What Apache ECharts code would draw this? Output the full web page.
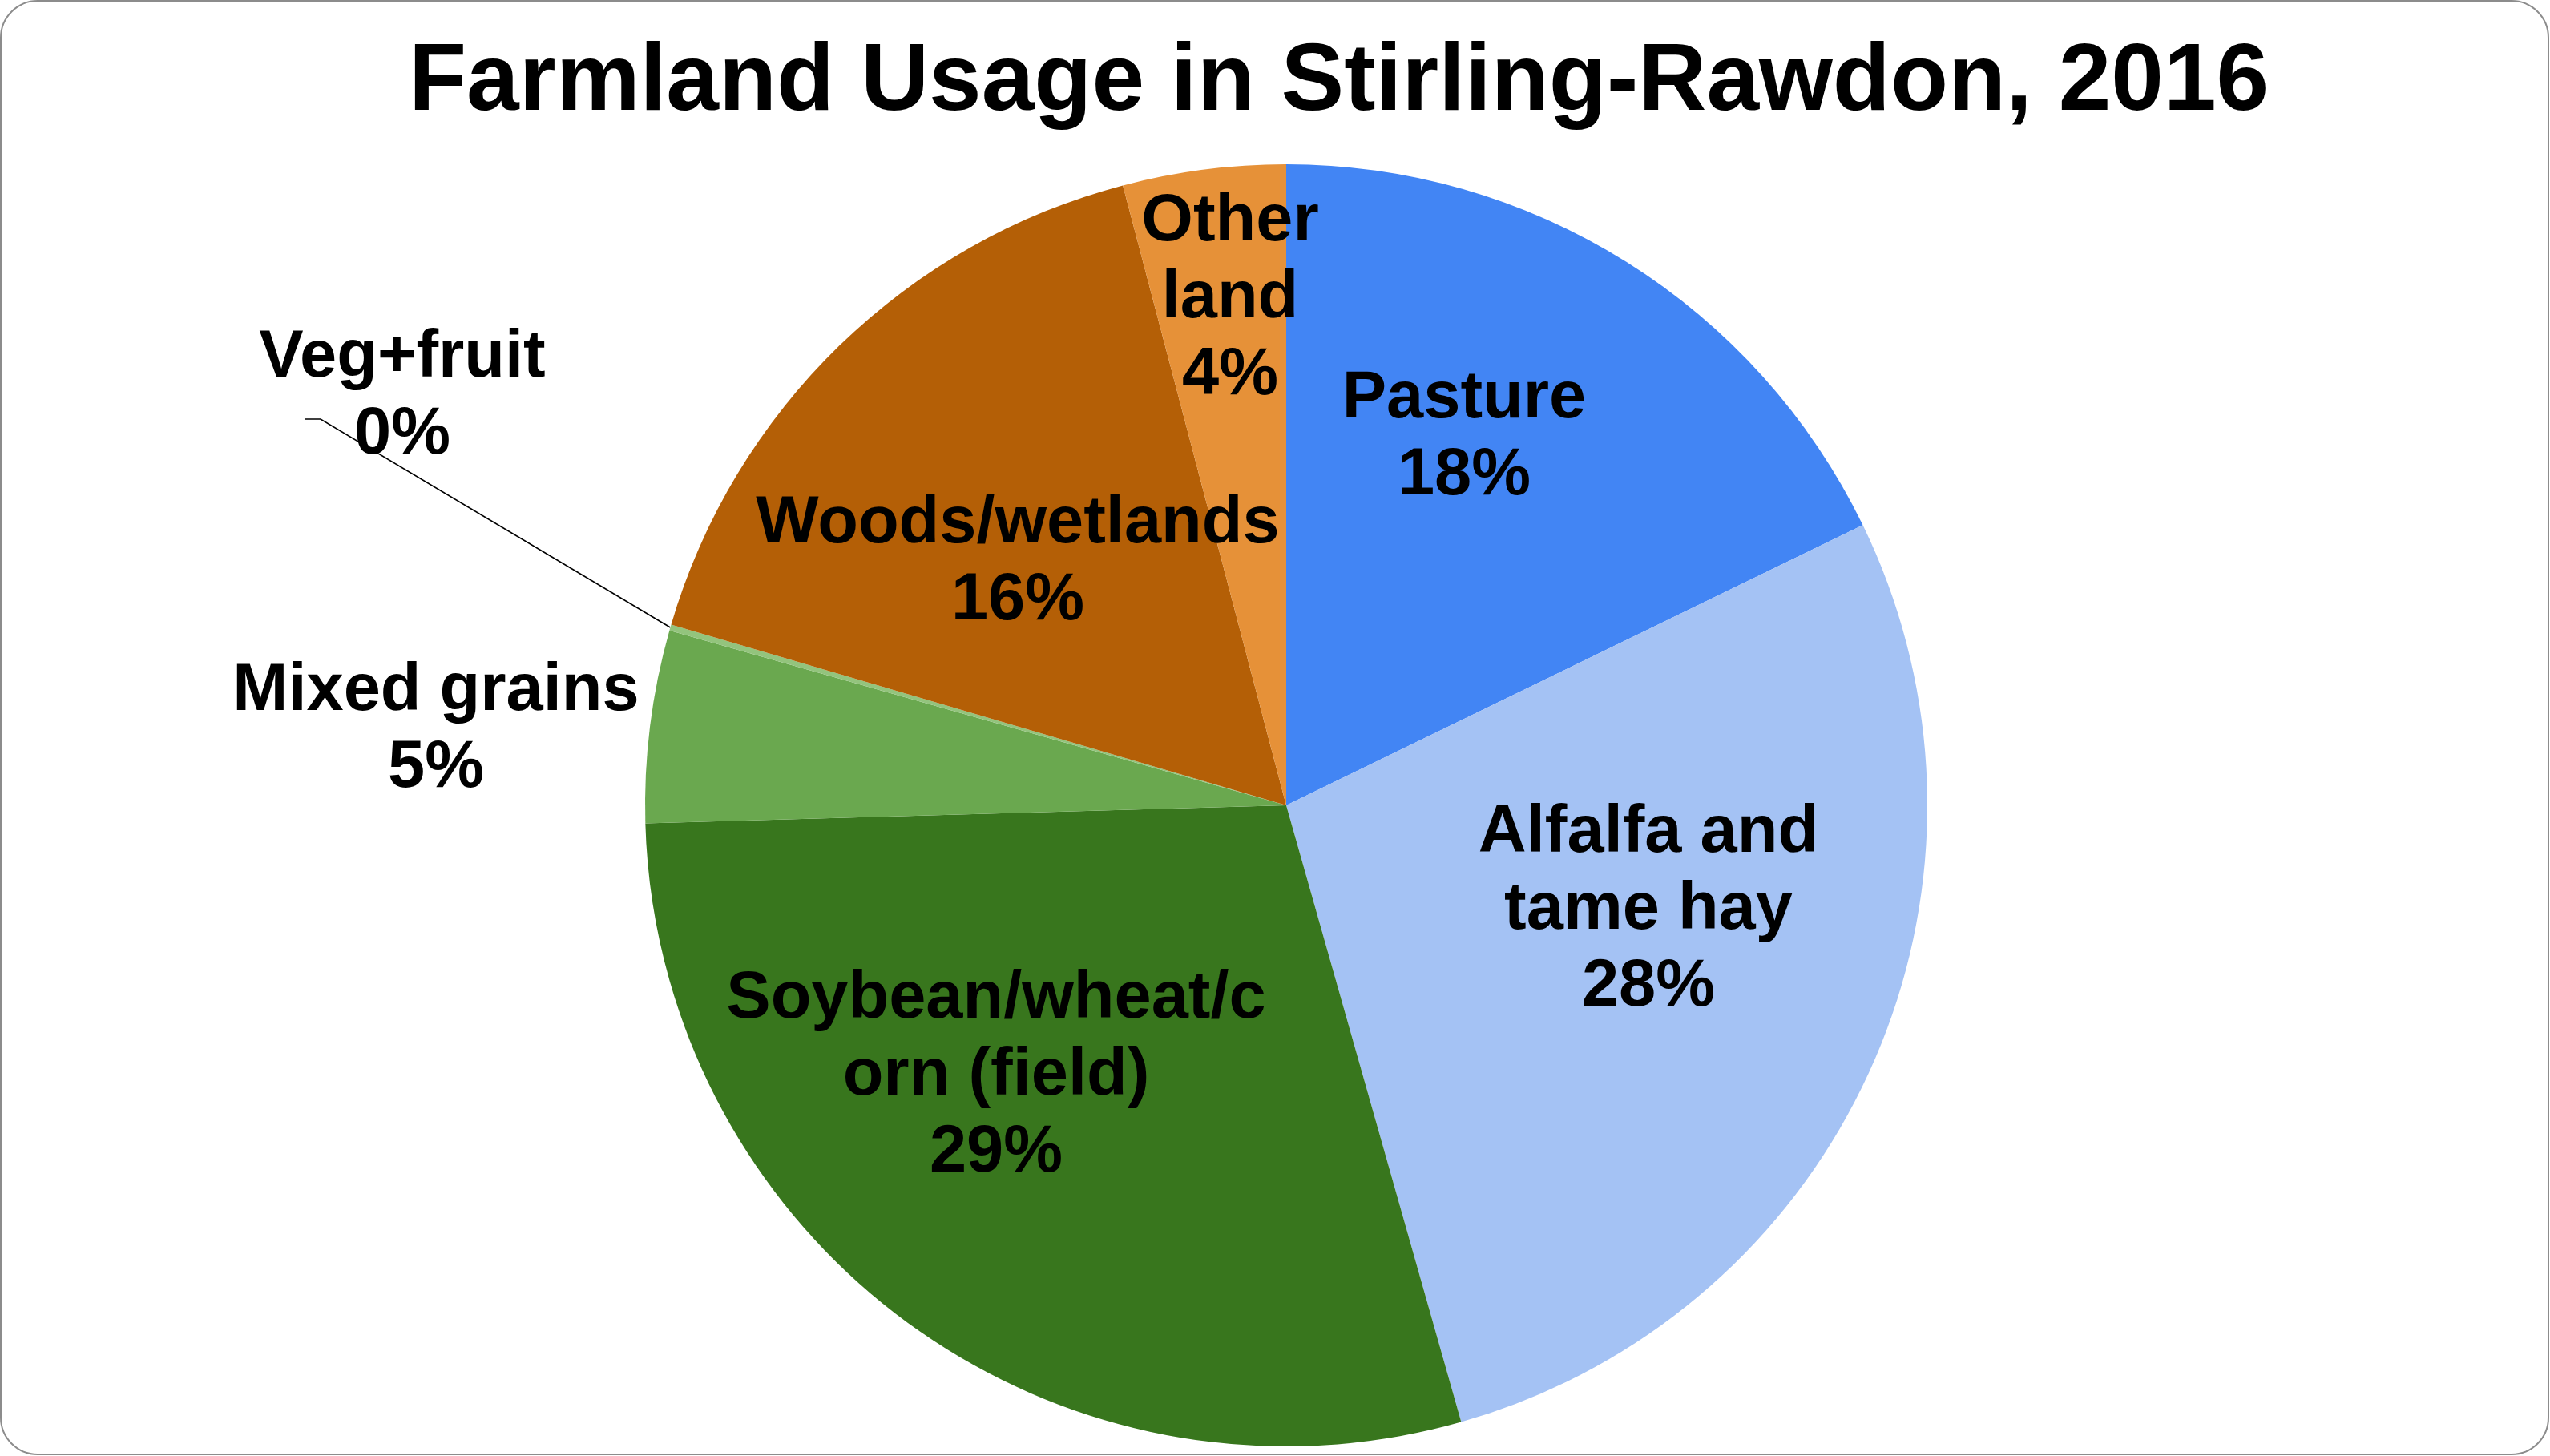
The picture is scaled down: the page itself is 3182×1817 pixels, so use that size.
<!DOCTYPE html>
<html>
<head>
<meta charset="utf-8">
<script src="https://cdn.jsdelivr.net/npm/echarts@6/dist/echarts.min.js"></script>
<style>
html,body{margin:0;padding:0;background:#fff;}
#chart{width:3182px;height:1817px;}
</style>
</head>
<body>
<div id="chart"></div>
<script>
// ---- data ----
const titleText = 'Farmland Usage in Stirling-Rawdon, 2016';
const categories = ['Pasture', 'Alfalfa and tame hay', 'Soybean/wheat/corn (field)', 'Mixed grains', 'Veg+fruit', 'Woods/wetlands', 'Other land'];
const labelTexts = ['Pasture', 'Alfalfa and\ntame hay', 'Soybean/wheat/c\norn (field)', 'Mixed grains', 'Veg+fruit', 'Woods/wetlands', 'Other\nland'];
const shares = [17.8, 27.8, 28.95, 4.85, 0.15, 16.35, 4.1];

// ---- styling / layout ----
const colors = ['#4285F4', '#A4C2F4', '#38761D', '#6AA84F', '#93C47D', '#B45F06', '#E69138'];
const labelCenters = [[1827, 546], [2057, 1136], [1243, 1343], [544, 911], [502, 495], [1270, 702], [1535, 373]];
const outsideIndex = 4; // label with leader line
const FONT = '"Liberation Sans", Arial, sans-serif';

const chart = echarts.init(document.getElementById('chart'), null, {renderer: 'canvas'});

const seriesData = categories.map((c, i) => ({
  name: c,
  value: shares[i],
  itemStyle: {color: colors[i]},
  label: {position: i === outsideIndex ? 'outside' : 'inside'},
  labelLine: {show: i === outsideIndex}
}));

chart.setOption({
  animation: false,
  backgroundColor: '#ffffff',
  title: {
    text: titleText,
    left: 510,
    top: 45,
    padding: 0,
    textStyle: {fontFamily: FONT, fontWeight: 'bold', fontSize: 118, color: '#000', lineHeight: 118}
  },
  graphic: [{
    type: 'rect',
    z: -10,
    silent: true,
    shape: {x: 1, y: 1, width: 3179, height: 1814, r: 46},
    style: {fill: 'none', stroke: '#8c8c8c', lineWidth: 2}
  }],
  series: [{
    type: 'pie',
    center: [1605, 1005],
    radius: 800,
    startAngle: 90,
    clockwise: true,
    avoidLabelOverlap: false,
    silent: true,
    emphasis: {disabled: true},
    itemStyle: {borderWidth: 0},
    label: {
      show: true,
      color: '#000',
      fontFamily: FONT,
      fontWeight: 'bold',
      fontSize: 83,
      lineHeight: 96,
      align: 'center',
      formatter: p => labelTexts[p.dataIndex] + '\n' + Math.round(p.percent) + '%'
    },
    labelLine: {lineStyle: {color: '#000', width: 1.6}, length: 40, length2: 20},
    labelLayout: function (params) {
      const i = params.dataIndex;
      const c = labelCenters[i];
      const out = {x: c[0], y: c[1], align: 'center', verticalAlign: 'middle'};
      if (i === outsideIndex && params.labelLinePoints) {
        const p0 = params.labelLinePoints[0];
        out.labelLinePoints = [p0, [c[0] - 102, c[1] + 28], [c[0] - 121, c[1] + 28]];
      }
      return out;
    },
    data: seriesData
  }]
});
</script>
</body>
</html>
